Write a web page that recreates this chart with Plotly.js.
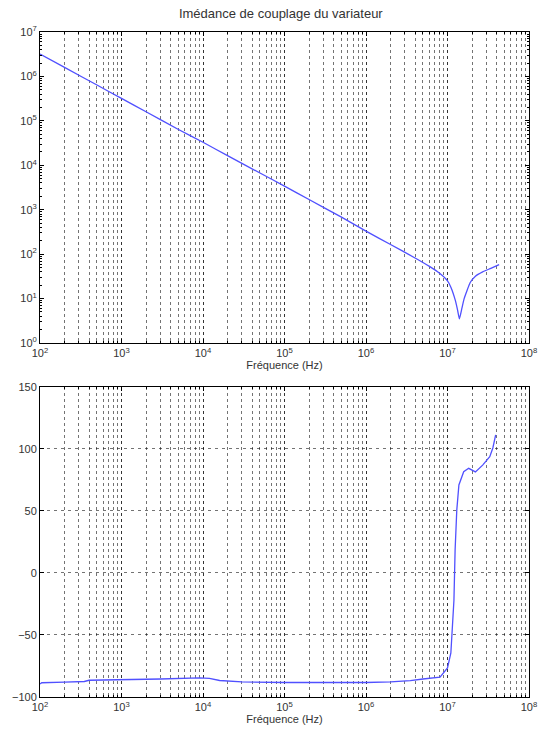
<!DOCTYPE html>
<html>
<head>
<meta charset="utf-8">
<script src="https://cdn.plot.ly/plotly-3.0.1.min.js"></script>
<style>html,body{margin:0;padding:0;background:#fff;}#chart{width:540px;height:731px;}</style>
</head>
<body>
<div id="chart"></div>
<script>
// Magnitude of coupling impedance (Ohm) vs frequency (Hz)
const magFreq = [100, 200, 500, 1e3, 2e3, 5e3, 1e4, 2e4, 5e4, 1e5, 2e5, 5e5, 1e6, 2e6, 4e6, 6e6, 8e6, 1e7, 1.1e7, 1.25e7, 1.33e7, 1.4e7, 1.5e7, 1.6e7, 1.9e7, 2.2e7, 2.7e7, 3.4e7, 4.3e7];
const magVal  = [3.2e6, 1.6e6, 6.4e5, 3.2e5, 1.6e5, 6.4e4, 3.3e4, 1.65e4, 6.7e3, 3.4e3, 1.7e3, 680, 330, 165, 82, 53, 37, 25, 18, 9, 5.5, 3.5, 6, 10, 23, 32, 40, 48, 58];

// Phase (degrees) vs frequency (Hz)
const phFreq = [100, 105, 200, 350, 400, 1e3, 3e3, 9e3, 1.2e4, 1.6e4, 3e4, 1e5, 3e5, 1e6, 2e6, 3.5e6, 5e6, 8.1e6, 1e7, 1.1e7, 1.2e7, 1.24e7, 1.3e7, 1.38e7, 1.58e7, 1.82e7, 2.2e7, 2.7e7, 3.3e7, 3.6e7, 3.9e7];
const phVal  = [-89.5, -88.5, -88, -87.5, -86.5, -86.3, -85.5, -84.5, -85, -86.7, -87.8, -88.3, -88.5, -88.3, -87.8, -86.8, -85.5, -84, -76.6, -64.5, -21.8, 18.5, 50.8, 71, 81.7, 84.4, 81.5, 87, 93.8, 100.8, 111.3];

const xTickVals = [1e2, 1e3, 1e4, 1e5, 1e6, 1e7, 1e8];
const xTickText = ['10<sup>2</sup>', '10<sup>3</sup>', '10<sup>4</sup>', '10<sup>5</sup>', '10<sup>6</sup>', '10<sup>7</sup>', '10<sup>8</sup>'];
const yMagTickVals = [1, 10, 100, 1e3, 1e4, 1e5, 1e6, 1e7];
const yMagTickText = ['10<sup>0</sup>', '10<sup>1</sup>', '10<sup>2</sup>', '10<sup>3</sup>', '10<sup>4</sup>', '10<sup>5</sup>', '10<sup>6</sup>', '10<sup>7</sup>'];
const yPhTickVals = [-100, -50, 0, 50, 100, 150];

const titleText = 'Imédance de couplage du variateur';
const xLabel = 'Fréquence (Hz)';

const font = {family: 'Liberation Sans, Arial, sans-serif', size: 11, color: '#333'};
const gridCol = 'rgba(0,0,0,0.55)';
const lineCol = 'rgb(80,80,255)';

function logX(anchor) {
  return {
    type: 'log', range: [2, 8], anchor: anchor,
    tickvals: xTickVals, ticktext: xTickText,
    showline: true, linecolor: '#000', linewidth: 1, mirror: 'ticks',
    ticks: 'inside', ticklen: 4, tickcolor: '#000',
    showgrid: true, gridcolor: gridCol, griddash: 'dot', gridwidth: 1,
    minor: {dtick: 'D1', showgrid: true, gridcolor: gridCol, griddash: 'dot', gridwidth: 1, ticks: 'inside', ticklen: 2, tickcolor: '#000'},
    zeroline: false,
    tickfont: font,
    title: {text: xLabel, font: font, standoff: 1}
  };
}

const data = [
  {x: magFreq, y: magVal, type: 'scatter', mode: 'lines', line: {color: lineCol, width: 1.3, shape: 'spline', smoothing: 0.4}, xaxis: 'x', yaxis: 'y', hoverinfo: 'skip'},
  {x: phFreq, y: phVal, type: 'scatter', mode: 'lines', line: {color: lineCol, width: 1.3}, xaxis: 'x2', yaxis: 'y2', hoverinfo: 'skip'}
];

const layout = {
  width: 540, height: 731,
  margin: {l: 40, r: 11, t: 32, b: 34},
  paper_bgcolor: '#fff', plot_bgcolor: '#fff',
  showlegend: false,
  font: font,
  title: {text: titleText, font: {family: font.family, size: 13, color: '#333'}, x: 0.52, xanchor: 'center', y: 0.988, yanchor: 'top'},
  xaxis: logX('y'),
  yaxis: {
    type: 'log', range: [0, 7], domain: [0.5323, 1], anchor: 'x',
    tickvals: yMagTickVals, ticktext: yMagTickText,
    showline: true, linecolor: '#000', linewidth: 1, mirror: 'ticks',
    ticks: 'inside', ticklen: 4, tickcolor: '#000',
    showgrid: false,
    minor: {dtick: 'D1', ticks: 'inside', ticklen: 2, tickcolor: '#000', showgrid: false},
    zeroline: false, tickfont: font
  },
  xaxis2: logX('y2'),
  yaxis2: {
    type: 'linear', range: [-100, 150], domain: [0, 0.4662], anchor: 'x2',
    tickvals: yPhTickVals,
    showline: true, linecolor: '#000', linewidth: 1, mirror: 'ticks',
    ticks: 'inside', ticklen: 4, tickcolor: '#000',
    showgrid: true, gridcolor: gridCol, griddash: '3px,4px', gridwidth: 1,
    zeroline: false, tickfont: font
  }
};

Plotly.newPlot('chart', data, layout, {staticPlot: true, displayModeBar: false});
</script>
</body>
</html>
